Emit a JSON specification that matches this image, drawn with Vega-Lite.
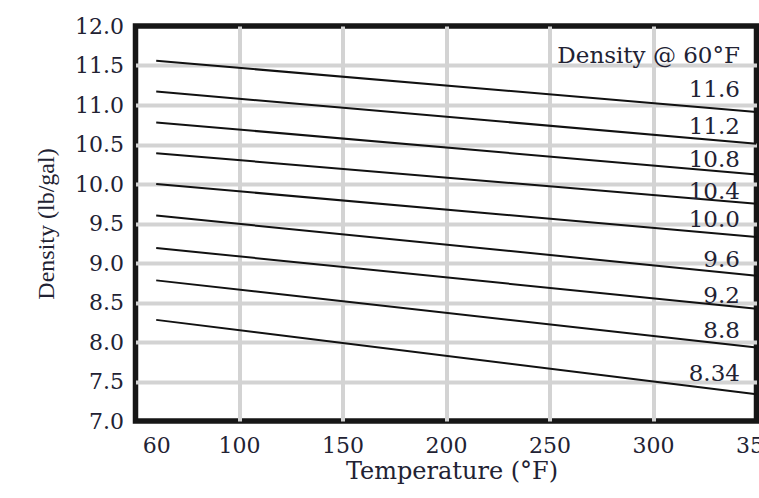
{
  "$schema": "https://vega.github.io/schema/vega-lite/v6.json",
  "width": 621,
  "height": 395,
  "autosize": {"type": "none"},
  "padding": {"left": 135.5, "top": 26, "right": 2.5, "bottom": 77},
  "background": "white",
  "config": {
    "view": {"stroke": "#161616", "strokeWidth": 5.5},
    "font": "DejaVu Serif"
  },
  "datasets": {
    "lines": [
      {"series": "11.6", "temp": 60, "density": 11.56},
      {"series": "11.6", "temp": 350, "density": 10.91},
      {"series": "11.2", "temp": 60, "density": 11.17},
      {"series": "11.2", "temp": 350, "density": 10.51},
      {"series": "10.8", "temp": 60, "density": 10.78},
      {"series": "10.8", "temp": 350, "density": 10.12},
      {"series": "10.4", "temp": 60, "density": 10.39},
      {"series": "10.4", "temp": 350, "density": 9.75},
      {"series": "10.0", "temp": 60, "density": 10.0},
      {"series": "10.0", "temp": 350, "density": 9.33},
      {"series": "9.6", "temp": 60, "density": 9.6},
      {"series": "9.6", "temp": 350, "density": 8.84},
      {"series": "9.2", "temp": 60, "density": 9.19},
      {"series": "9.2", "temp": 350, "density": 8.42},
      {"series": "8.8", "temp": 60, "density": 8.78},
      {"series": "8.8", "temp": 350, "density": 7.93},
      {"series": "8.34", "temp": 60, "density": 8.28},
      {"series": "8.34", "temp": 350, "density": 7.34}
    ],
    "labels": [
      {"label": "Density @ 60°F", "temp": 342, "density": 11.53},
      {"label": "11.6", "temp": 342, "density": 11.1},
      {"label": "11.2", "temp": 342, "density": 10.63},
      {"label": "10.8", "temp": 342, "density": 10.22},
      {"label": "10.4", "temp": 342, "density": 9.81},
      {"label": "10.0", "temp": 342, "density": 9.46},
      {"label": "9.6", "temp": 342, "density": 8.95},
      {"label": "9.2", "temp": 342, "density": 8.49},
      {"label": "8.8", "temp": 342, "density": 8.05},
      {"label": "8.34", "temp": 342, "density": 7.51}
    ]
  },
  "encoding": {
    "x": {
      "field": "temp",
      "type": "quantitative",
      "scale": {"domain": [50, 350], "nice": false, "zero": false},
      "axis": {
        "title": "Temperature (°F)",
        "titleFont": "DejaVu Serif",
        "titleFontSize": 24,
        "titleFontWeight": "normal",
        "titleColor": "#222233",
        "titleBaseline": "alphabetic",
        "titleY": 57,
        "titleX": 316,
        "values": [60, 100, 150, 200, 250, 300, 350],
        "ticks": false,
        "tickSize": 0,
        "domain": false,
        "labelFont": "DejaVu Serif",
        "labelFontSize": 22,
        "labelColor": "#222233",
        "labelPadding": 14,
        "labelFlush": false,
        "labelOverlap": false,
        "gridColor": "#d3d3d3",
        "gridWidth": 4,
        "gridOpacity": {"condition": {"test": "datum.value == 60 || datum.value == 350", "value": 0}, "value": 1}
      }
    },
    "y": {
      "field": "density",
      "type": "quantitative",
      "scale": {"domain": [7, 12], "nice": false, "zero": false},
      "axis": {
        "title": "Density (lb/gal)",
        "titleFont": "Liberation Serif",
        "titleFontSize": 24,
        "titleFontWeight": "normal",
        "titleColor": "#222233",
        "titleBaseline": "alphabetic",
        "titleX": -82.5,
        "values": [7, 7.5, 8, 8.5, 9, 9.5, 10, 10.5, 11, 11.5, 12],
        "format": ".1f",
        "ticks": false,
        "tickSize": 0,
        "domain": false,
        "labelFont": "DejaVu Serif",
        "labelFontSize": 22,
        "labelColor": "#222233",
        "labelPadding": 12,
        "labelFlush": false,
        "labelOverlap": false,
        "gridColor": "#d3d3d3",
        "gridWidth": 4,
        "gridOpacity": {"condition": {"test": "datum.value == 7 || datum.value == 12", "value": 0}, "value": 1}
      }
    }
  },
  "layer": [
    {
      "data": {"name": "lines"},
      "mark": {"type": "line", "color": "#111111", "strokeWidth": 2, "clip": true},
      "encoding": {
        "detail": {"field": "series", "type": "nominal"}
      }
    },
    {
      "data": {"name": "labels"},
      "mark": {
        "type": "text",
        "align": "right",
        "baseline": "alphabetic",
        "font": "DejaVu Serif",
        "fontSize": 23,
        "color": "#222233"
      },
      "encoding": {
        "text": {"field": "label", "type": "nominal"}
      }
    }
  ]
}
